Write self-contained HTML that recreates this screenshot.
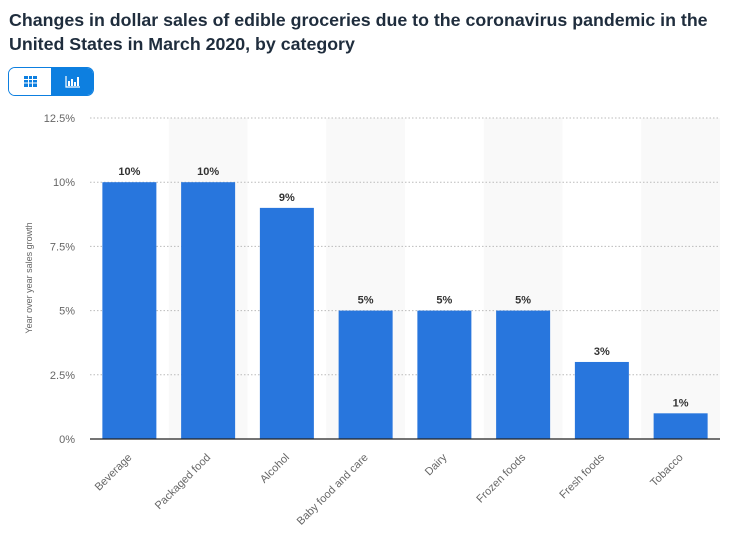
<!DOCTYPE html>
<html><head><meta charset="utf-8"><style>
body{margin:0;width:736px;height:554px;background:#fff;font-family:"Liberation Sans",sans-serif;overflow:hidden;position:relative}
h1{position:absolute;left:9px;top:8px;margin:0;font-size:17.8px;line-height:24px;color:#1f2d3d;font-weight:bold;width:725px}
.tog{position:absolute;left:8px;top:67px;width:86px;height:29px;border:1px solid #0d7fe0;border-radius:7px;overflow:hidden;box-sizing:border-box}
.tog div{position:absolute;top:0;height:100%;width:42px}
</style></head><body>
<h1>Changes in dollar sales of edible groceries due to the coronavirus pandemic in the United States in March 2020, by category</h1>
<div class="tog">
<div style="left:0;background:#fff"><svg width="42" height="28"><g fill="#0d7fe0"><rect x="15" y="8" width="13" height="11"/></g><g stroke="#fff" stroke-width="1"><line x1="15" y1="11.5" x2="28" y2="11.5"/><line x1="15" y1="15" x2="28" y2="15"/><line x1="19.5" y1="8" x2="19.5" y2="19"/><line x1="23.5" y1="8" x2="23.5" y2="19"/></g></svg></div>
<div style="left:42px;width:44px;background:#0d7fe0"><svg width="44" height="28"><g stroke="#fff" fill="none" stroke-width="1.2"><path d="M15 8V19H29"/></g><g fill="#fff"><rect x="17" y="13" width="2" height="5"/><rect x="20" y="11" width="2" height="7"/><rect x="23" y="14" width="2" height="4"/><rect x="26" y="9" width="2" height="9"/></g></svg></div>
</div>
<svg id="c" width="736" height="554" style="position:absolute;left:0;top:0"></svg>
<script>
const categories=["Beverage","Packaged food","Alcohol","Baby food and care","Dairy","Frozen foods","Fresh foods","Tobacco"];
const values=[10,10,9,5,5,5,3,1];
const valueLabels=["10%","10%","9%","5%","5%","5%","3%","1%"];
const ticks=[0,2.5,5,7.5,10,12.5];
const tickLabels=["0%","2.5%","5%","7.5%","10%","12.5%"];
const NS="http://www.w3.org/2000/svg",svg=document.getElementById('c');
const x0=90,x1=720,yTop=118,yBot=439,maxV=12.5;
const bw=(x1-x0)/categories.length;
const y=v=>yBot-(v/maxV)*(yBot-yTop);
function mk(t,a,txt){const e=document.createElementNS(NS,t);for(const k in a)e.setAttribute(k,a[k]);if(txt!=null)e.textContent=txt;svg.appendChild(e);return e;}
categories.forEach((c,i)=>{if(i%2){const r=mk('rect',{x:x0+i*bw,y:yTop,width:bw,height:yBot-yTop,fill:'#f9f9f9'});

}});
ticks.forEach((t,i)=>{if(t>0){const l=mk('line',{x1:x0,x2:x1,y1:y(t),y2:y(t),stroke:'#bbb','stroke-dasharray':'1.5,2'});

}
const tx=mk('text',{x:75,y:y(t)+4,'text-anchor':'end','font-size':11,fill:'#666'},tickLabels[i]);

});
const yt=mk('text',{transform:'translate(32,278) rotate(-90)','text-anchor':'middle','font-size':9,fill:'#666'},'Year over year sales growth');


categories.forEach((c,i)=>{const cx=x0+i*bw+bw/2;
const b=mk('rect',{x:cx-27,y:y(values[i]),width:54,height:yBot-y(values[i]),fill:'#2876dd'});


const v=mk('text',{x:cx,y:y(values[i])-7,'text-anchor':'middle','font-size':11,'font-weight':'bold',fill:'#333'},valueLabels[i]);


const l=mk('text',{transform:`translate(${cx+3},${458}) rotate(-45)`,'text-anchor':'end','font-size':11,fill:'#666'},c);

});
const ax=mk('line',{x1:x0,x2:x1,y1:yBot,y2:yBot,stroke:'#222','stroke-width':1.2});


</script>
</body></html>
